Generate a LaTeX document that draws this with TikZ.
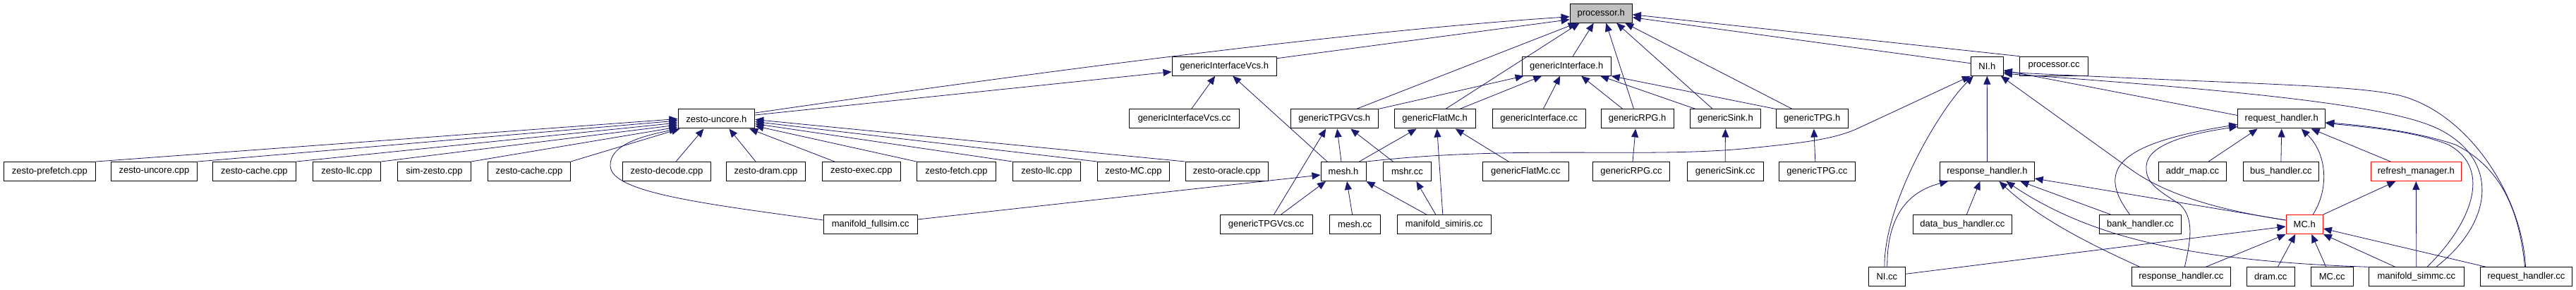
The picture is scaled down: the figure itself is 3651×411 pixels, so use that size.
\documentclass[tikz,border=0pt]{standalone}
\usepackage{fontspec}
\setmainfont{Liberation Sans}
\usetikzlibrary{arrows.meta}
\definecolor{edgeblue}{HTML}{191970}
\definecolor{nodegray}{HTML}{BFBFBF}
\begin{document}
\begin{tikzpicture}[x=1pt,y=-1pt,
  box/.style={draw=black,line width=1pt,fill=white,minimum height=27pt,inner sep=0pt,font=\fontsize{13}{15}\selectfont,anchor=center},
  redbox/.style={box,draw=red},
  e/.style={draw=edgeblue,line width=0.8pt,-{Triangle[length=12pt,width=10pt]}}]
\fill[white] (0,0) rectangle (3651,411);
\useasboundingbox (0,0) rectangle (3651,411);
% row 0
\node[box,fill=nodegray,minimum width=88.2pt] (proc) at (2269.2,18.7) {processor.h};
% row 1
\node[box,minimum width=148.3pt] (giv) at (1735.2,93.7) {genericInterfaceVcs.h};
\node[box,minimum width=126.1pt] (gi) at (2220.2,93.7) {genericInterface.h};
\node[box,minimum width=46pt] (nih) at (2816.3,93.7) {NI.h};
\node[box,minimum width=96.1pt] (pcc) at (2911,93.7) {processor.cc};
% row 2
\node[box,minimum width=108.7pt] (zu) at (1015.4,168.5) {zesto-uncore.h};
\node[box,minimum width=155.7pt] (givcc) at (1678.5,168.5) {genericInterfaceVcs.cc};
\node[box,minimum width=123.7pt] (gtv) at (1891.2,168.5) {genericTPGVcs.h};
\node[box,minimum width=114.6pt] (gfm) at (2033.7,168.5) {genericFlatMc.h};
\node[box,minimum width=132.1pt] (gicc) at (2181.2,168.5) {genericInterface.cc};
\node[box,minimum width=103.2pt] (grpg) at (2320.6,168.5) {genericRPG.h};
\node[box,minimum width=99.8pt] (gsink) at (2445.4,168.5) {genericSink.h};
\node[box,minimum width=101.7pt] (gtpg) at (2568.3,168.5) {genericTPG.h};
\node[box,minimum width=124pt] (rqh) at (3233.7,168.5) {request\_handler.h};
% row 3
\node[box,minimum width=130.5pt] (zpf) at (70.4,243) {zesto-prefetch.cpp};
\node[box,minimum width=122.2pt] (zuc) at (218.5,243) {zesto-uncore.cpp};
\node[box,minimum width=118.2pt] (zc1) at (360.4,243) {zesto-cache.cpp};
\node[box,minimum width=96.4pt] (zl1) at (491.5,243) {zesto-llc.cpp};
\node[box,minimum width=103.7pt] (sz) at (615.4,243) {sim-zesto.cpp};
\node[box,minimum width=117.1pt] (zc2) at (749.9,243) {zesto-cache.cpp};
\node[box,minimum width=125.4pt] (zdec) at (945,243) {zesto-decode.cpp};
\node[box,minimum width=112.4pt] (zdram) at (1085.5,243) {zesto-dram.cpp};
\node[box,minimum width=111.7pt] (zexec) at (1220.9,243) {zesto-exec.cpp};
\node[box,minimum width=112.3pt] (zfetch) at (1355.4,243) {zesto-fetch.cpp};
\node[box,minimum width=96.1pt] (zl2) at (1483.4,243) {zesto-llc.cpp};
\node[box,minimum width=102pt] (zmc) at (1606.5,243) {zesto-MC.cpp};
\node[box,minimum width=117.1pt] (zor) at (1738.6,243) {zesto-oracle.cpp};
\node[box,minimum width=64pt] (mesh) at (1904,243) {mesh.h};
\node[box,minimum width=67.7pt] (mshr) at (1994.4,243) {mshr.cc};
\node[box,minimum width=121.8pt] (gfmcc) at (2162.2,243) {genericFlatMc.cc};
\node[box,minimum width=109.9pt] (grpgcc) at (2312,243) {genericRPG.cc};
\node[box,minimum width=108.1pt] (gsinkcc) at (2445.2,243) {genericSink.cc};
\node[box,minimum width=107.9pt] (gtpgcc) at (2575.4,243) {genericTPG.cc};
\node[box,minimum width=133.7pt] (rsh) at (2816.4,243) {response\_handler.h};
\node[box,minimum width=96.4pt] (addr) at (3107.5,243) {addr\_map.cc};
\node[box,minimum width=107.5pt] (bus) at (3232.9,243) {bus\_handler.cc};
\node[redbox,minimum width=128pt] (refm) at (3424.3,243) {refresh\_manager.h};
% row 4
\node[box,minimum width=132.6pt] (mfs) at (1233.7,318) {manifold\_fullsim.cc};
\node[box,minimum width=131pt] (gtvcc) at (1794.6,318) {genericTPGVcs.cc};
\node[box,minimum width=72pt] (meshcc) at (1920.2,318) {mesh.cc};
\node[box,minimum width=132.9pt] (msim) at (2046.8,318) {manifold\_simiris.cc};
\node[box,minimum width=140pt] (dbh) at (2781.3,318) {data\_bus\_handler.cc};
\node[box,minimum width=116.4pt] (bank) at (3033.5,318) {bank\_handler.cc};
\node[redbox,minimum width=52.3pt] (mch) at (3266.2,318) {MC.h};
% row 5
\node[box,minimum width=52pt] (nicc) at (2674.3,392.3) {NI.cc};
\node[box,minimum width=140pt] (rscc) at (3091.3,392.3) {response\_handler.cc};
\node[box,minimum width=68pt] (dram) at (3218.3,392.3) {dram.cc};
\node[box,minimum width=60.3pt] (mccc) at (3305.2,392.3) {MC.cc};
\node[box,minimum width=135pt] (msmc) at (3424.8,392.3) {manifold\_simmc.cc};
\node[box,minimum width=130.4pt] (rqcc) at (3580.5,392.3) {request\_handler.cc};

% ---- edges into zesto-uncore.h
\draw[e] (zpf.north east) -- (zu.west);
\draw[e] (zuc.north east) -- ([yshift=-2.5pt]zu.west);
\draw[e] (zc1.north east) -- ([yshift=-5.5pt]zu.west);
\draw[e] (zl1.north east) -- ([yshift=-8.5pt]zu.west);
\draw[e] (sz.north east) -- ([yshift=-11.5pt]zu.west);
\draw[e] (zc2.north east) -- ([xshift=3pt]zu.south west);
\draw[e] ([xshift=13pt]zdec.north) -- ([xshift=-18pt]zu.south);
\draw[e] ([xshift=-14.5pt]zdram.north) -- ([xshift=18pt]zu.south);
\draw[e] ([xshift=-38pt]zexec.north) -- ([xshift=-8pt]zu.south east);
\draw[e] (zfetch.north west) -- ([yshift=-10pt]zu.east);
\draw[e] (zl2.north west) -- ([yshift=-7pt]zu.east);
\draw[e] (zmc.north west) -- ([yshift=-4pt]zu.east);
\draw[e] (zor.north west) -- ([yshift=-1pt]zu.east);
\draw[e] ([yshift=6pt]mfs.west) .. controls (990,288) and (866,272) .. (865,235) .. controls (864,205) and (910,193) .. (zu.south west);
% ---- zesto-uncore.h / genericInterfaceVcs.h up
\draw[e] ([yshift=5.5pt]zu.east) -- ([yshift=-8pt]giv.west);
\draw[e] ([yshift=8.5pt]zu.east) .. controls (1450,105) and (1900,45) .. ([yshift=-5pt]proc.west);
\draw[e] ([yshift=11pt]giv.east) -- ([yshift=-9pt]proc.west);
% ---- into processor.h
\draw[e] ([xshift=31pt]gtv.north) -- ([xshift=10pt]proc.south west);
\draw[e] ([xshift=15pt]gfm.north) -- ([xshift=14pt]proc.south west);
\draw[e] ([xshift=9pt]gi.north) -- ([xshift=-10.5pt]proc.south);
\draw[e] ([xshift=-5pt]grpg.north) -- ([xshift=7pt]proc.south);
\draw[e] ([xshift=-18pt]gsink.north) -- ([xshift=22pt]proc.south);
\draw[e] ([xshift=-28pt]gtpg.north) -- ([xshift=34pt]proc.south);
\draw[e] ([yshift=4pt]nih.west) -- ([yshift=-6pt]proc.east);
\draw[e] (pcc.north west) -- ([yshift=-2pt]proc.east);
% ---- into genericInterface.h
\draw[e] (gtv.north east) -- ([xshift=3pt]gi.south west);
\draw[e] ([xshift=35pt]gfm.north) -- ([xshift=-35pt]gi.south);
\draw[e] ([xshift=6pt]gicc.north) -- ([xshift=-9pt]gi.south);
\draw[e] ([xshift=-20.6pt]grpg.north) -- ([xshift=21pt]gi.south);
\draw[e] ([xshift=-42pt]gsink.north) -- ([xshift=48pt]gi.south);
\draw[e] (gtpg.north west) -- (gi.south east);
% ---- into genericInterfaceVcs.h
\draw[e] ([xshift=10pt]givcc.north) -- ([xshift=-13pt]giv.south);
\draw[e] ([xshift=-23pt]mesh.north) -- ([xshift=12pt]giv.south);
% ---- into genericTPGVcs.h
\draw[e] ([xshift=-3pt]mesh.north) -- ([xshift=4pt]gtv.south);
\draw[e] ([xshift=-20pt]mshr.north) -- ([xshift=23pt]gtv.south);
\draw[e] ([xshift=11pt]gtvcc.north) -- ([xshift=-12pt]gtv.south);
% ---- into genericFlatMc.h
\draw[e] ([xshift=22.5pt]mesh.north) -- ([xshift=-26pt]gfm.south);
\draw[e] ([xshift=-2pt]msim.north) -- ([xshift=3pt]gfm.south);
\draw[e] ([xshift=-24pt]gfmcc.north) -- ([xshift=29pt]gfm.south);
% ---- generic .cc -> .h
\draw[e] ([xshift=2pt]grpgcc.north) -- ([xshift=-2.5pt]grpg.south);
\draw[e] (gsinkcc.north) -- (gsink.south);
\draw[e] ([xshift=-2.6pt]gtpgcc.north) -- ([xshift=2.5pt]gtpg.south);
% ---- into mesh.h / mshr.cc
\draw[e] ([yshift=7pt]mfs.east) -- ([yshift=-5pt]mesh.west);
\draw[e] ([xshift=21pt]gtvcc.north) -- ([xshift=-25pt]mesh.south);
\draw[e] ([xshift=-3.6pt]meshcc.north) -- ([xshift=5pt]mesh.south);
\draw[e] ([xshift=-25pt]msim.north) -- (mesh.south east);
\draw[e] ([xshift=-12pt]msim.north) -- ([xshift=13pt]mshr.south);
% ---- into NI.h
\draw[e] (mesh.north east) .. controls (2150,205) and (2330,225) .. (2480,210) .. controls (2560,202) and (2600,197) .. (2633,182) -- (nih.south west);
\draw[e] ([xshift=-3.4pt]nicc.north) .. controls (2670,290) and (2747,157) .. ([xshift=4pt]nih.south west);
\draw[e] (rsh.north) -- (nih.south);
\draw[e] ([yshift=6pt]mch.west) .. controls (3160,300) and (3075,280) .. (3020,240) -- ([xshift=-4pt]nih.south east);
\draw[e] ([yshift=5pt]rqh.west) -- ([yshift=-6pt]nih.east);
\draw[e] ([xshift=-1pt]rqcc.north) .. controls (3575,280) and (3500,160) .. (3400,135) .. controls (3330,120) and (3200,120) .. ([yshift=-8.5pt]nih.east);
\draw[e] ([xshift=28pt]msmc.north) .. controls (3540,310) and (3540,220) .. (3450,180) .. controls (3380,150) and (3200,130) .. ([yshift=-10.5pt]nih.east);
% ---- into response_handler.h
\draw[e] ([xshift=0.5pt]nicc.north) .. controls (2674,300) and (2710,270) .. ([xshift=12pt]rsh.south west);
\draw[e] ([xshift=6pt]dbh.north) -- ([xshift=-10pt]rsh.south);
\draw[e] ([xshift=12pt]rscc.north west) .. controls (2960,345) and (2890,310) .. ([xshift=17pt]rsh.south);
\draw[e] (msmc.north west) .. controls (3100,370) and (2960,335) .. ([xshift=27pt]rsh.south);
\draw[e] ([xshift=-42pt]bank.north) -- ([xshift=47pt]rsh.south);
\draw[e] ([yshift=6pt]mch.west) -- ([yshift=-10pt]rsh.east);
% ---- into request_handler.h
\draw[e] ([xshift=-15pt]bank.north) .. controls (2975,245) and (2990,205) .. ([yshift=-8pt]rqh.west);
\draw[e] ([xshift=5pt]rscc.north) .. controls (3105,340) and (3110,310) .. (3090,290) .. controls (3060,270) and (3040,260) .. (3042,235) .. controls (3044,205) and (3100,190) .. ([yshift=-11pt]rqh.west);
\draw[e] ([xshift=22.5pt]addr.north) -- ([xshift=-34pt]rqh.south);
\draw[e] (bus.north) -- (rqh.south);
\draw[e] ([xshift=12pt]mch.north) .. controls (3300,270) and (3300,220) .. ([xshift=28pt]rqh.south);
\draw[e] ([xshift=-36pt]refm.north) -- ([xshift=42pt]rqh.south);
\draw[e] ([xshift=15pt]msmc.north) .. controls (3500,320) and (3535,240) .. (3470,205) .. controls (3420,185) and (3350,180) .. ([yshift=-6pt]rqh.east);
\draw[e] ([xshift=-2pt]rqcc.north) .. controls (3570,290) and (3540,235) .. (3480,205) .. controls (3420,185) and (3350,178) .. ([yshift=-5pt]rqh.east);
% ---- into refresh_manager.h
\draw[e] (mch.north east) -- ([xshift=-29pt]refm.south);
\draw[e] (msmc.north) -- (refm.south);
% ---- into MC.h
\draw[e] ([yshift=4pt]nicc.east) -- ([yshift=-3pt]mch.west);
\draw[e] ([xshift=35pt]rscc.north) -- (mch.south west);
\draw[e] ([xshift=10pt]dram.north) -- ([xshift=-13pt]mch.south);
\draw[e] ([xshift=-8.5pt]mccc.north) -- ([xshift=10pt]mch.south);
\draw[e] ([xshift=-30pt]msmc.north) -- (mch.south east);
\draw[e] ([xshift=-57pt]rqcc.north) -- ([yshift=-6pt]mch.east);
\end{tikzpicture}
\end{document}
